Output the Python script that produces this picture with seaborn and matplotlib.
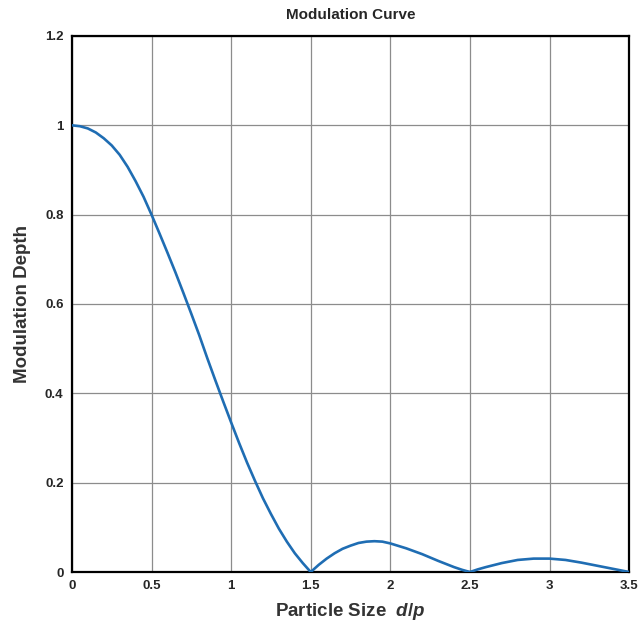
import matplotlib
matplotlib.use("Agg")
import matplotlib.pyplot as plt
from matplotlib.ticker import AutoMinorLocator
import seaborn as sns

# Values
particle_size = [0.0, 0.05, 0.1, 0.15, 0.2, 0.25, 0.3, 0.35, 0.4, 0.45, 0.5,
                 0.55, 0.6, 0.65, 0.7, 0.75, 0.8, 0.85, 0.9, 0.95, 1.0,
                 1.05, 1.1, 1.15, 1.2, 1.25, 1.3, 1.35, 1.4, 1.45, 1.5,
                 1.55, 1.6, 1.65, 1.7, 1.75, 1.8, 1.85, 1.9, 1.95, 2.0,
                 2.1, 2.2, 2.3, 2.4, 2.45, 2.5,
                 2.55, 2.6, 2.7, 2.8, 2.9, 3.0, 3.1, 3.2, 3.3, 3.4, 3.5]
modulation_depth = [1.0, 0.998, 0.993, 0.984, 0.971, 0.955, 0.934, 0.907, 0.875, 0.84, 0.80,
                    0.758, 0.715, 0.671, 0.625, 0.578, 0.53, 0.479, 0.43, 0.382, 0.335,
                    0.289, 0.245, 0.204, 0.165, 0.13, 0.097, 0.068, 0.042, 0.02, 0.0,
                    0.016, 0.030, 0.042, 0.052, 0.059, 0.065, 0.068, 0.069, 0.068, 0.064,
                    0.053, 0.040, 0.025, 0.011, 0.005, 0.0,
                    0.006, 0.011, 0.020, 0.027, 0.030, 0.030, 0.027, 0.021, 0.014, 0.007, 0.0]

x_ticks = [0, 0.5, 1, 1.5, 2, 2.5, 3, 3.5]
x_ticklabels = ["0", "0.5", "1", "1.5", "2", "2.5", "3", "3.5"]
y_ticks = [0, 0.2, 0.4, 0.6, 0.8, 1.0, 1.2]
y_ticklabels = ["0", "0.2", "0.4", "0.6", "0.8", "1", "1.2"]

sns.set_style("white")
plt.rcParams["font.family"] = ["Liberation Sans", "DejaVu Sans"]
plt.rcParams["mathtext.fontset"] = "custom"
plt.rcParams["mathtext.it"] = "Liberation Sans:italic:bold"
plt.rcParams["mathtext.rm"] = "Liberation Sans:bold"

fig = plt.figure(figsize=(6.42, 6.29), dpi=100)
ax = fig.add_axes([0.112, 0.0906, 0.868, 0.8522])

sns.lineplot(x=particle_size, y=modulation_depth, ax=ax,
             color="#1f6db3", linewidth=1.9, zorder=3)

ax.set_xlim(0, 3.5)
ax.set_ylim(0, 1.2)
ax.set_xticks(x_ticks)
ax.set_xticklabels(x_ticklabels, fontweight="bold", fontsize=9.5)
ax.set_yticks(y_ticks)
ax.set_yticklabels(y_ticklabels, fontweight="bold", fontsize=9.5)
ax.xaxis.set_minor_locator(AutoMinorLocator(6))
ax.yaxis.set_minor_locator(AutoMinorLocator(4))
ax.tick_params(which="major", direction="in", length=4, width=1.2, color="black", pad=6)
ax.tick_params(which="minor", direction="in", length=3.5, width=1.1, color="black")

ax.grid(True, which="major", color="#8c8c8c", linewidth=0.9)
for spine in ax.spines.values():
    spine.set_color("black")
    spine.set_linewidth(1.6)

ax.set_title("Modulation Curve", fontsize=11, fontweight="bold", pad=12)
ax.set_xlabel(r"Particle Size  $d/p$", fontsize=13.5, fontweight="bold", color="#333333", labelpad=6)
ax.set_ylabel("Modulation Depth", fontsize=13.5, fontweight="bold", color="#333333", labelpad=10)

fig.savefig("out.png", dpi=100)
